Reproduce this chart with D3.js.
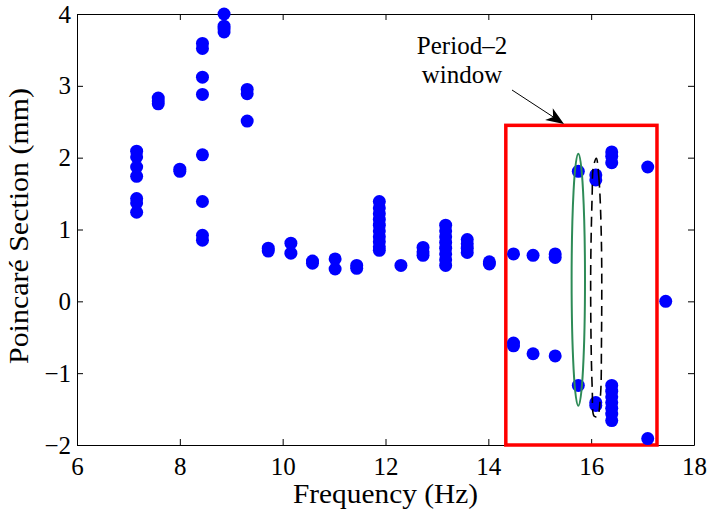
<!DOCTYPE html>
<html>
<head>
<meta charset="utf-8">
<script src="https://cdn.jsdelivr.net/npm/d3@7"></script>
<style>
body{margin:0;background:#fff}
</style>
</head>
<body>
<svg id="chart" width="710" height="514"></svg>
<script>
// forcing frequency of each sweep step (Hz)
const freqs = [7.16, 7.58, 8.00, 8.44, 8.86, 9.31, 9.72, 10.16, 10.58, 11.02, 11.44, 11.88,
               12.30, 12.73, 13.17, 13.59, 14.02, 14.49, 14.87, 15.30, 15.75, 16.09, 16.40, 17.10, 17.45]
// poincare section points found at each frequency (mm)
const sections = [
    [2.09, 2.01, 1.87, 1.74, 1.43, 1.37, 1.24],
    [2.83, 2.79, 2.75],
    [1.84, 1.81],
    [3.59, 3.52, 3.12, 2.88, 2.04, 1.39, 0.92, 0.85],
    [4.00, 3.83, 3.79, 3.75],
    [2.95, 2.89, 2.51],
    [0.74, 0.70],
    [0.81, 0.67],
    [0.56, 0.53],
    [0.59, 0.45],
    [0.50, 0.46],
    [1.39, 1.30, 1.22, 1.14, 1.06, 0.98, 0.90, 0.83, 0.76, 0.71],
    [0.50],
    [0.75, 0.69, 0.64],
    [1.06, 0.98, 0.90, 0.82, 0.74, 0.66, 0.58, 0.50],
    [0.86, 0.80, 0.74, 0.68],
    [0.55, 0.52],
    [0.66, -0.58, -0.62],
    [0.64, -0.73],
    [0.66, 0.61, -0.76],
    [1.81, -1.17],
    [1.76, 1.69, -1.41, -1.45],
    [2.08, 2.02, 1.93, -1.17, -1.25, -1.33, -1.41, -1.49, -1.57, -1.66],
    [1.87, -1.91],
    [0.0]
]
const xTicks = [6, 8, 10, 12, 14, 16, 18]
const yTicks = [-2, -1, 0, 1, 2, 3, 4]

// annotation shapes, in data units
const windowBox = [14.34, 17.28, -2.0, 2.45]          // x0, x1, y0, y1
const greenEllipse = [15.75, 0.30, 0.13, 1.754]        // cx, cy, rx, ry
const dashedLoop = [[16.10, 1.99], [16.15, 1.72], [16.20, 0.80], [16.20, -0.60], [16.18, -1.32],
                    [16.12, -1.60], [16.06, -1.60], [16.02, -1.20], [15.99, 0.30], [16.02, 1.50], [16.04, 1.86]]

const serif = "Liberation Serif"
const margin = {top: 14, right: 16, bottom: 69, left: 77}
const W = 710, H = 514
const width = W - margin.left - margin.right, height = H - margin.top - margin.bottom

const svg = d3.select("#chart")
const g = svg.append("g").attr("transform", `translate(${margin.left},${margin.top})`)

const x = d3.scaleLinear().domain([6, 18]).range([0, width])
const y = d3.scaleLinear().domain([-2, 4]).range([height, 0])

//flatten points
const points = []
freqs.forEach((f, i) => sections[i].forEach(v => points.push({f: f, v: v})))

// axes: ticks point inward on all four sides
const fmt = d => d < 0 ? "\u2212" + Math.abs(d) : String(d)
const styleAxis = sel => {
    sel.attr("font-size", 25).attr("font-family", serif)
    sel.selectAll("path,line").attr("stroke", "#000").attr("stroke-width", 1)
}
g.append("g").attr("transform", `translate(0,${height})`)
    .call(d3.axisBottom(x).tickValues(xTicks).tickFormat(fmt).tickSizeInner(-6).tickSizeOuter(0).tickPadding(12))
    .call(styleAxis)
g.append("g")
    .call(d3.axisTop(x).tickValues(xTicks).tickFormat("").tickSizeInner(-6).tickSizeOuter(0))
    .call(styleAxis)
g.append("g")
    .call(d3.axisLeft(y).tickValues(yTicks).tickFormat(fmt).tickSizeInner(-6).tickSizeOuter(0).tickPadding(6))
    .call(styleAxis)
g.append("g").attr("transform", `translate(${width},0)`)
    .call(d3.axisRight(y).tickValues(yTicks).tickFormat("").tickSizeInner(-6).tickSizeOuter(0))
    .call(styleAxis)

// red box marking the period-2 window
g.append("rect")
    .attr("x", x(windowBox[0])).attr("y", y(windowBox[3]))
    .attr("width", x(windowBox[1]) - x(windowBox[0]))
    .attr("height", y(windowBox[2]) - y(windowBox[3]))
    .attr("fill", "none").attr("stroke", "#ff0000").attr("stroke-width", 3.5)

// dots
g.selectAll(".pt").data(points).enter().append("circle")
    .attr("class", "pt")
    .attr("cx", d => x(d.f)).attr("cy", d => y(d.v))
    .attr("r", 6.5).attr("fill", "#0000ff")

// green ellipse
g.append("ellipse")
    .attr("cx", x(greenEllipse[0])).attr("cy", y(greenEllipse[1]))
    .attr("rx", x(greenEllipse[0] + greenEllipse[2]) - x(greenEllipse[0]))
    .attr("ry", y(greenEllipse[1] - greenEllipse[3]) - y(greenEllipse[1]))
    .attr("fill", "none").attr("stroke", "#2e8b57").attr("stroke-width", 2)

// dashed loop
const loopLine = d3.line().x(d => x(d[0])).y(d => y(d[1])).curve(d3.curveCatmullRomClosed)
g.append("path").attr("d", loopLine(dashedLoop))
    .attr("fill", "none").attr("stroke", "#000").attr("stroke-width", 1.6)
    .attr("stroke-dasharray", "10,6")

// annotation text + arrow
const label = svg.append("text").attr("x", 462).attr("y", 54).attr("text-anchor", "middle")
    .attr("font-size", 25).attr("font-family", serif)
label.append("tspan").attr("x", 462).text("Period\u20132")
label.append("tspan").attr("x", 462).attr("dy", 29).text("window")

const p0 = [512, 90], p1 = [564, 124]
const ang = Math.atan2(p1[1] - p0[1], p1[0] - p0[0])
svg.append("line")
    .attr("x1", p0[0]).attr("y1", p0[1])
    .attr("x2", p1[0] - 12 * Math.cos(ang)).attr("y2", p1[1] - 12 * Math.sin(ang))
    .attr("stroke", "#000").attr("stroke-width", 1)
svg.append("path")
    .attr("d", "M0,0 L-18,-7 L-13,0 L-18,7 Z")
    .attr("transform", `translate(${p1[0]},${p1[1]}) rotate(${ang * 180 / Math.PI})`)
    .attr("fill", "#000")

// axis labels
svg.append("text")
    .attr("x", margin.left + width / 2).attr("y", 503)
    .attr("text-anchor", "middle").attr("font-size", 27).attr("font-family", serif)
    .attr("textLength", 185).attr("lengthAdjust", "spacingAndGlyphs")
    .text("Frequency (Hz)")
svg.append("text")
    .attr("transform", `translate(28,226) rotate(-90)`)
    .attr("text-anchor", "middle").attr("font-size", 27).attr("font-family", serif)
    .attr("textLength", 276).attr("lengthAdjust", "spacingAndGlyphs")
    .text("Poincaré Section (mm)")
</script>
</body>
</html>
